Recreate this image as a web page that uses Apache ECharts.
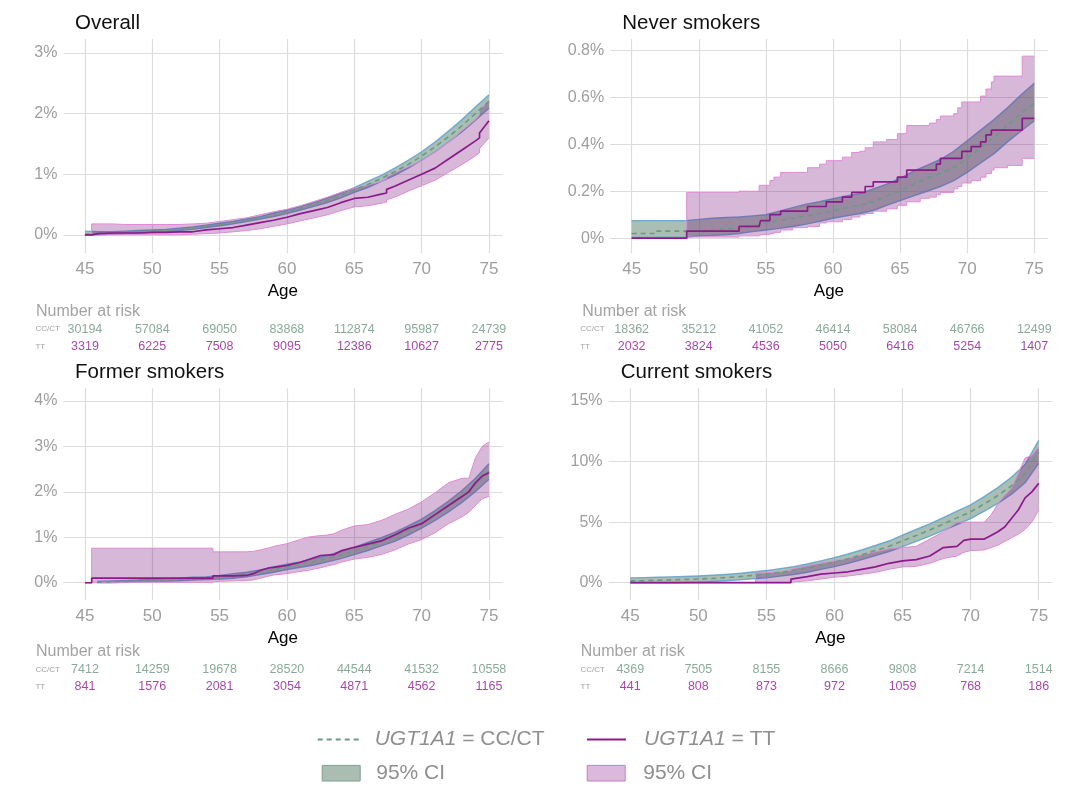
<!DOCTYPE html>
<html><head><meta charset="utf-8">
<script src="https://cdn.jsdelivr.net/npm/echarts@6/dist/echarts.min.js"></script>
<style>html,body{margin:0;padding:0;background:#fff}#c{width:1086px;height:794px}</style>
</head><body><div id="c"></div>
<script>
const FONT = '"Liberation Sans", Arial, Helvetica, sans-serif';
const panelTitles = ['Overall', 'Never smokers', 'Former smokers', 'Current smokers'];
const xTicks = [45, 50, 55, 60, 65, 70, 75];
const overallYTicks = [0, 1, 2, 3];
const neverYTicks = [0, 0.2, 0.4, 0.6, 0.8];
const formerYTicks = [0, 1, 2, 3, 4];
const currentYTicks = [0, 5, 10, 15];
const riskAges = [45, 50, 55, 60, 65, 70, 75];
const riskRows = ['TT', 'CC/CT'];

// Number at risk
const overallRiskCC = [30194, 57084, 69050, 83868, 112874, 95987, 24739];
const overallRiskTT = [3319, 6225, 7508, 9095, 12386, 10627, 2775];
const neverRiskCC = [18362, 35212, 41052, 46414, 58084, 46766, 12499];
const neverRiskTT = [2032, 3824, 4536, 5050, 6416, 5254, 1407];
const formerRiskCC = [7412, 14259, 19678, 28520, 44544, 41532, 10558];
const formerRiskTT = [841, 1576, 2081, 3054, 4871, 4562, 1165];
const currentRiskCC = [4369, 7505, 8155, 8666, 9808, 7214, 1514];
const currentRiskTT = [441, 808, 873, 972, 1059, 768, 186];

// Overall (cumulative incidence, %)
const overallCcAge = [45,46,47,48,49,50,51,52,53,54,55,56,57,58,59,60,61,62,63,64,65,66,67,68,69,70,71,72,73,74,75];
const overallCcEst = [0.01,0.02,0.03,0.04,0.05,0.06,0.07,0.09,0.11,0.14,0.17,0.20,0.24,0.28,0.33,0.38,0.44,0.50,0.57,0.65,0.74,0.83,0.93,1.04,1.16,1.30,1.45,1.62,1.80,2.00,2.20];
const overallCcLo = [0.00,0.00,0.01,0.02,0.03,0.04,0.05,0.07,0.09,0.12,0.15,0.18,0.22,0.26,0.30,0.35,0.41,0.47,0.53,0.61,0.70,0.78,0.88,0.98,1.10,1.23,1.37,1.53,1.70,1.89,2.09];
const overallCcHi = [0.06,0.05,0.05,0.06,0.07,0.08,0.09,0.11,0.13,0.16,0.19,0.22,0.26,0.30,0.36,0.41,0.47,0.53,0.61,0.69,0.78,0.88,0.98,1.10,1.23,1.37,1.53,1.71,1.90,2.11,2.31];
const overallTtAge = [45,45.5,45.5,46,47,48,49,50,51,52,53,54,55,56,57,58,59,60,61,62,63,64,65,66,67,67.4,67.4,68,69,70,71,72,73,74,74.3,74.3,75];
const overallTtEst = [0,0,0.02,0.02,0.03,0.03,0.03,0.04,0.04,0.05,0.05,0.08,0.10,0.12,0.16,0.20,0.24,0.29,0.35,0.40,0.45,0.53,0.60,0.62,0.67,0.69,0.75,0.80,0.90,1.00,1.10,1.25,1.40,1.55,1.60,1.68,1.88];
const overallTtLo = [0,0,0,0,0,0,0,0,0,0,0.01,0.02,0.03,0.05,0.07,0.10,0.14,0.18,0.23,0.28,0.33,0.40,0.46,0.48,0.52,0.54,0.58,0.62,0.72,0.81,0.90,1.03,1.16,1.30,1.35,1.42,1.60];
const overallTtHi = [0,0,0.18,0.18,0.18,0.17,0.17,0.17,0.17,0.17,0.18,0.19,0.22,0.25,0.28,0.33,0.38,0.42,0.48,0.55,0.62,0.70,0.77,0.82,0.88,0.90,0.95,1.02,1.12,1.22,1.37,1.52,1.72,1.90,1.98,2.05,2.22];

// Never smokers
const neverCcAge = [45,46.8,46.8,49,50,51,52,53,54,55,56,57,58,59,60,61,62,63,64,65,66,67,68,69,70,71,72,73,74,75];
const neverCcEst = [0.02,0.02,0.03,0.03,0.03,0.035,0.04,0.04,0.05,0.065,0.075,0.085,0.095,0.105,0.117,0.13,0.14,0.155,0.18,0.2,0.23,0.255,0.275,0.3,0.34,0.385,0.43,0.48,0.53,0.575];
const neverCcLo = [0.003,0.003,0.003,0.003,0.01,0.012,0.015,0.02,0.028,0.035,0.042,0.05,0.06,0.072,0.085,0.095,0.105,0.118,0.14,0.16,0.18,0.2,0.22,0.245,0.28,0.32,0.36,0.41,0.455,0.5];
const neverCcHi = [0.075,0.075,0.075,0.075,0.08,0.085,0.088,0.09,0.095,0.1,0.115,0.13,0.145,0.155,0.168,0.18,0.19,0.21,0.23,0.255,0.285,0.31,0.335,0.37,0.415,0.46,0.505,0.555,0.61,0.66];
const neverTtAge = [45,49.1,53,54.5,54.6,55.3,55.6,56.1,57,58.1,59,59.5,60.7,61.4,62,62.4,63,64,64.8,65.5,66.5,67.2,67.7,68,69,69.3,69.6,70.3,71,71.4,71.8,72,73,74.1,75];
const neverTtEst = [0,0.03,0.05,0.05,0.075,0.10,0.10,0.115,0.115,0.135,0.135,0.155,0.175,0.195,0.195,0.22,0.24,0.24,0.26,0.29,0.29,0.29,0.315,0.34,0.34,0.34,0.37,0.39,0.41,0.44,0.46,0.46,0.46,0.51,0.51];
const neverTtLo = [0,0.005,0.01,0.012,0.015,0.02,0.025,0.035,0.045,0.05,0.065,0.07,0.08,0.09,0.10,0.105,0.115,0.125,0.14,0.155,0.17,0.175,0.185,0.195,0.21,0.22,0.235,0.245,0.26,0.275,0.29,0.30,0.31,0.34,0.34];
const neverTtHi = [0,0.195,0.20,0.225,0.225,0.245,0.26,0.28,0.28,0.30,0.315,0.33,0.345,0.365,0.37,0.385,0.41,0.42,0.445,0.48,0.48,0.49,0.505,0.52,0.53,0.555,0.58,0.58,0.605,0.635,0.665,0.69,0.69,0.775,0.775];

// Former smokers
const formerCcAge = [45.9,47,48,49,50,51,52,53,54,55,56,57,58,59,60,61,62,63,64,65,66,67,68,69,70,71,72,73,74,75];
const formerCcEst = [0.01,0.02,0.03,0.04,0.05,0.06,0.07,0.09,0.10,0.12,0.15,0.18,0.23,0.29,0.35,0.40,0.46,0.53,0.61,0.70,0.80,0.90,1.01,1.15,1.30,1.48,1.68,1.90,2.15,2.45];
const formerCcLo = [0,0,0.01,0.02,0.03,0.03,0.04,0.06,0.07,0.08,0.10,0.13,0.18,0.23,0.29,0.34,0.39,0.46,0.53,0.62,0.71,0.81,0.91,1.05,1.20,1.37,1.56,1.77,2.01,2.28];
const formerCcHi = [0.03,0.04,0.05,0.06,0.07,0.09,0.10,0.12,0.13,0.16,0.20,0.23,0.28,0.35,0.41,0.46,0.53,0.60,0.69,0.78,0.89,0.99,1.11,1.25,1.40,1.59,1.80,2.03,2.30,2.62];
const formerTtAge = [45,45.5,45.5,54.5,54.5,55,56,57,57.5,58,58.7,59,60,61,61.5,62,62.5,63,63.5,64,65,66,67,68,69,70,71,72,73,73.5,74,74.5,75];
const formerTtEst = [0,0,0.1,0.1,0.15,0.15,0.15,0.16,0.2,0.27,0.33,0.34,0.38,0.45,0.5,0.55,0.6,0.61,0.62,0.7,0.78,0.85,0.92,1.05,1.2,1.3,1.5,1.7,1.9,2.0,2.2,2.35,2.42];
const formerTtLo = [0,0,0.01,0.01,0.02,0.03,0.04,0.05,0.06,0.1,0.15,0.17,0.2,0.25,0.27,0.3,0.33,0.37,0.4,0.45,0.52,0.56,0.62,0.72,0.85,0.95,1.1,1.3,1.45,1.55,1.7,1.85,1.9];
const formerTtHi = [0,0,0.76,0.76,0.68,0.68,0.68,0.68,0.69,0.72,0.77,0.8,0.86,0.95,1.0,1.02,1.04,1.05,1.08,1.15,1.25,1.28,1.37,1.5,1.62,1.78,1.98,2.2,2.3,2.3,2.75,3.0,3.1];

// Current smokers
const currentCcAge = [45,46,47,48,49,50,51,52,53,54,55,56,57,58,59,60,61,62,63,64,65,66,67,68,69,70,71,72,73,74,75];
const currentCcEst = [0.15,0.17,0.2,0.23,0.26,0.3,0.35,0.42,0.5,0.6,0.7,0.85,1.0,1.2,1.45,1.7,1.98,2.3,2.65,3.0,3.45,3.9,4.35,4.85,5.35,5.85,6.5,7.2,8.0,9.0,10.8];
const currentCcLo = [0,0,0,0,0.01,0.05,0.1,0.16,0.23,0.32,0.4,0.54,0.68,0.86,1.1,1.33,1.59,1.9,2.23,2.56,2.98,3.41,3.84,4.32,4.8,5.28,5.9,6.55,7.3,8.25,9.85];
const currentCcHi = [0.4,0.42,0.45,0.48,0.51,0.55,0.61,0.68,0.77,0.88,1.0,1.16,1.32,1.54,1.8,2.07,2.37,2.7,3.07,3.44,3.92,4.39,4.86,5.38,5.9,6.42,7.1,7.85,8.7,9.75,11.75];
const currentTtAge = [45,54.2,54.2,55,56,56.8,56.8,58,59,60,61,62,63,64,65,66,67,68,69,69.5,70,71,71.5,72,72.5,73,73.5,74,74.5,75];
const currentTtEst = [0,0,0,0,0,0,0.3,0.5,0.7,0.8,0.9,1.1,1.3,1.6,1.8,1.9,2.2,2.9,3.0,3.5,3.6,3.6,3.9,4.2,4.6,5.3,6.0,7.0,7.5,8.2];
const currentTtLo = [0,0,0,0,0,0,0.05,0.15,0.3,0.45,0.55,0.7,0.85,1.1,1.3,1.35,1.6,2.0,2.2,2.5,2.65,2.7,2.9,3.1,3.4,3.7,4.0,4.4,5.0,6.0];
const currentTtHi = [0,0,0.8,0.8,0.9,1.0,1.1,1.4,1.6,1.8,2.0,2.3,2.55,2.8,2.9,3.0,3.6,4.2,5.0,5.0,5.0,5.0,5.6,6.5,7.2,7.8,9.0,10.3,10.5,11.2];

// ---- styling / layout ----
const CC_LINE = '#6a9a85', TT_LINE = '#8b1a8b';
const CC_FILL = 'rgba(83,127,103,0.5)', TT_FILL = 'rgba(116,0,116,0.28)';
const CC_EDGE = 'rgba(95,160,205,0.85)', TT_EDGE = '#e08ad6';
const GRID_COL = '#dcdcdc', LABEL_COL = '#9e9e9e';
const XMIN = 43.4, XMAX = 76.0;

const panels = [
  {left: 63.4, top: 39, width: 439, height: 214, ymin: -0.3, ymax: 3.23, yTicks: overallYTicks, riskTop: 320.2, riskH: 35.4, catMargin: 28,
   cc: [overallCcAge, overallCcEst, overallCcLo, overallCcHi, false], tt: [overallTtAge, overallTtEst, overallTtLo, overallTtHi, false],
   riskCC: overallRiskCC, riskTT: overallRiskTT, tl: 75, tt0: 13, nl: 36, nt: 303.5},
  {left: 610.2, top: 39, width: 437.5, height: 214, ymin: -0.063, ymax: 0.848, yTicks: neverYTicks, riskTop: 320.2, riskH: 35.4, catMargin: 30,
   cc: [neverCcAge, neverCcEst, neverCcLo, neverCcHi, false], tt: [neverTtAge, neverTtEst, neverTtLo, neverTtHi, true],
   riskCC: neverRiskCC, riskTT: neverRiskTT, tl: 622.3, tt0: 13, nl: 582.3, nt: 303.5},
  {left: 63.4, top: 388.3, width: 439, height: 211.7, ymin: -0.38, ymax: 4.28, yTicks: formerYTicks, riskTop: 660.6, riskH: 34.8, catMargin: 28,
   cc: [formerCcAge, formerCcEst, formerCcLo, formerCcHi, false], tt: [formerTtAge, formerTtEst, formerTtLo, formerTtHi, false],
   riskCC: formerRiskCC, riskTT: formerRiskTT, tl: 75, tt0: 362, nl: 36, nt: 643.5},
  {left: 608.5, top: 388.3, width: 443.8, height: 211.7, ymin: -1.43, ymax: 16.05, yTicks: currentYTicks, riskTop: 660.6, riskH: 34.8, catMargin: 28,
   cc: [currentCcAge, currentCcEst, currentCcLo, currentCcHi, false], tt: [currentTtAge, currentTtEst, currentTtLo, currentTtHi, false],
   riskCC: currentRiskCC, riskTT: currentRiskTT, tl: 620.7, tt0: 362, nl: 580.7, nt: 643.5}
];

function stepify(pts) {
  const out = [pts[0]];
  for (let i = 1; i < pts.length; i++) { out.push([pts[i][0], pts[i - 1][1]]); out.push(pts[i]); }
  return out;
}
function bandSeries(p, grp, fill, edge, edgeW, name) {
  const [ages, , lo, hi, step] = grp;
  return {
    type: 'custom', name, xAxisIndex: p, yAxisIndex: p, silent: true, z: 2,
    data: [[ages[0], lo[0]]],
    renderItem(params, api) {
      let up = ages.map((a, i) => api.coord([a, hi[i]]));
      let dn = ages.map((a, i) => api.coord([a, lo[i]]));
      if (step) { up = stepify(up); dn = stepify(dn); }
      return {type: 'group', children: [
        {type: 'polygon', shape: {points: up.concat(dn.slice().reverse())}, style: {fill: fill, stroke: null}},
        {type: 'polyline', shape: {points: up}, style: {stroke: edge, lineWidth: edgeW, fill: null}},
        {type: 'polyline', shape: {points: dn}, style: {stroke: edge, lineWidth: edgeW, fill: null}}
      ]};
    }
  };
}
function lineSeries(p, grp, name, color, dashed) {
  const [ages, est, , , step] = grp;
  return {
    type: 'line', name, xAxisIndex: p, yAxisIndex: p, silent: true, z: 5, symbol: 'none',
    step: step ? 'end' : false,
    data: ages.map((a, i) => [a, est[i]]),
    lineStyle: {color, width: dashed ? 1.6 : 1.7, type: dashed ? [5, 4] : 'solid'},
    itemStyle: {color}
  };
}
function riskSeries(p, vals, row, color) {
  return {
    type: 'scatter', xAxisIndex: 4 + p, yAxisIndex: 4 + p, silent: true, symbolSize: 1,
    itemStyle: {color: 'rgba(0,0,0,0)'},
    data: riskAges.map((a, i) => [a, row, vals[i]]),
    label: {show: true, position: 'inside', formatter: prm => String(prm.value[2]), color, fontSize: 12.5, fontFamily: FONT}
  };
}

const grid = [], xAxis = [], yAxis = [], series = [], title = [];
panels.forEach((P, p) => {
  grid[p] = {left: P.left, top: P.top, width: P.width, height: P.height};
  grid[4 + p] = {left: P.left, top: P.riskTop, width: P.width, height: P.riskH};
  xAxis[p] = {
    type: 'value', gridIndex: p, min: XMIN, max: XMAX,
    name: 'Age', nameLocation: 'middle', nameGap: 30,
    nameTextStyle: {color: '#000', fontSize: 17, fontFamily: FONT},
    axisLine: {show: false}, axisTick: {show: false, customValues: xTicks},
    axisLabel: {customValues: xTicks, color: LABEL_COL, fontSize: 17, fontFamily: FONT, margin: 8},
    splitLine: {show: true, lineStyle: {color: GRID_COL, width: 1.2}}
  };
  yAxis[p] = {
    type: 'value', gridIndex: p, min: P.ymin, max: P.ymax,
    axisLine: {show: false}, axisTick: {show: false, customValues: P.yTicks},
    axisLabel: {customValues: P.yTicks, formatter: v => v + '%', color: LABEL_COL, fontSize: 16, fontFamily: FONT, margin: 6},
    splitLine: {show: true, lineStyle: {color: GRID_COL, width: 1.2}}
  };
  xAxis[4 + p] = {type: 'value', gridIndex: 4 + p, min: XMIN, max: XMAX, show: false};
  yAxis[4 + p] = {
    type: 'category', gridIndex: 4 + p, data: riskRows,
    axisLine: {show: false}, axisTick: {show: false}, splitLine: {show: false},
    axisLabel: {align: 'left', margin: P.catMargin, fontSize: 8, color: '#a0a0a0', fontFamily: FONT}
  };
  series.push(bandSeries(p, P.cc, CC_FILL, CC_EDGE, 1.4, 'CI CC/CT'));
  series.push(bandSeries(p, P.tt, TT_FILL, TT_EDGE, 1.0, 'CI TT'));
  series.push(lineSeries(p, P.cc, 'CC/CT', CC_LINE, true));
  series.push(lineSeries(p, P.tt, 'TT', TT_LINE, false));
  series.push(riskSeries(p, P.riskCC, 'CC/CT', '#6b957f'));
  series.push(riskSeries(p, P.riskTT, 'TT', '#8e1a8e'));
  title.push({text: panelTitles[p], left: P.tl, top: P.tt0, padding: 0,
    textStyle: {fontSize: 20.5, fontWeight: 'normal', color: '#111', fontFamily: FONT}});
  title.push({text: 'Number at risk', left: P.nl, top: P.nt, padding: 0,
    textStyle: {fontSize: 16, fontWeight: 'normal', color: '#a3a3a3', fontFamily: FONT}});
});

const legendNames = {'CC/CT': '{i|UGT1A1} = CC/CT', 'TT': '{i|UGT1A1} = TT', 'CI CC/CT': '95% CI', 'CI TT': '95% CI'};
function legendText(pad) {
  return {color: '#8f8f8f', fontSize: 21, fontFamily: FONT, padding: [0, 0, 0, pad],
    rich: {i: {fontStyle: 'italic', color: '#8f8f8f', fontSize: 21, fontFamily: FONT}}};
}
const legend = [
  {left: 316.7, top: 729, padding: 0, itemWidth: 43, itemHeight: 14, selectedMode: false, data: ['CC/CT'],
   formatter: n => legendNames[n], textStyle: legendText(9), itemStyle: {opacity: 0}},
  {left: 586, top: 729, padding: 0, itemWidth: 39, itemHeight: 14, selectedMode: false, data: ['TT'],
   formatter: n => legendNames[n], textStyle: legendText(13), itemStyle: {opacity: 0}},
  {left: 321.7, top: 762.7, padding: 0, itemWidth: 38, itemHeight: 15.6, selectedMode: false,
   data: [{name: 'CI CC/CT', icon: 'rect', itemStyle: {color: '#a9bdb3', borderColor: '#7f9f90', borderWidth: 1}}],
   formatter: n => legendNames[n], textStyle: legendText(11)},
  {left: 586.7, top: 762.7, padding: 0, itemWidth: 38, itemHeight: 15.6, selectedMode: false,
   data: [{name: 'CI TT', icon: 'rect', itemStyle: {color: '#dcb8dc', borderColor: '#c77dc7', borderWidth: 1}}],
   formatter: n => legendNames[n], textStyle: legendText(13)}
];

const chart = echarts.init(document.getElementById('c'));
chart.setOption({animation: false, backgroundColor: '#fff', title, grid, xAxis, yAxis, series, legend});
</script></body></html>
